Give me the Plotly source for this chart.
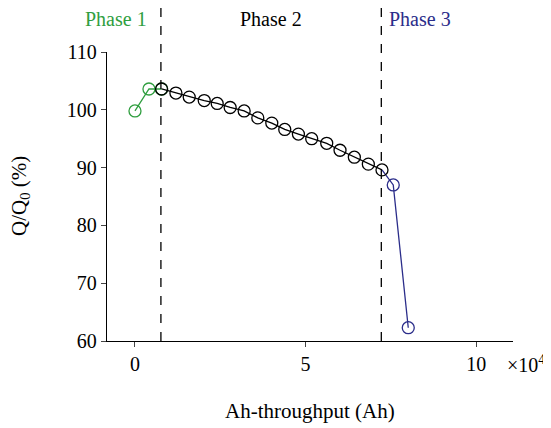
import plotly.graph_objects as go

# Data (x in units of 1e4 Ah, y in %)
phase1_x = [0.0, 0.41, 0.78]
phase1_y = [99.8, 103.6, 103.6]

phase2_x = [0.78, 1.20, 1.59, 2.03, 2.41, 2.79, 3.20, 3.60, 4.01, 4.39,
            4.79, 5.18, 5.62, 6.01, 6.43, 6.84, 7.24]
phase2_y = [103.6, 102.9, 102.2, 101.6, 101.1, 100.4, 99.8, 98.6, 97.7, 96.6,
            95.8, 95.0, 94.2, 93.0, 91.8, 90.6, 89.6]

phase3_x = [7.24, 7.57, 8.01]
phase3_y = [89.6, 87.0, 62.3]

boundaries = [0.76, 7.22]
x_ticks = [0, 5, 10]
y_ticks = [60, 70, 80, 90, 100, 110]

GREEN = "#2f9e3f"
BLUE = "#2b2d8a"
FONT = "Liberation Serif"
FS = 21
TFS = 20

# plot area in page pixels (page has an 8px body offset)
PL, PR, PT, PB = 107, 513, 52, 341
OFF = 8
W, H = 551 - OFF, 428 - OFF


def xp(px):
    return (px - PL) / (PR - PL)


def yp(py):
    return (PB - py) / (PB - PT)


fig = go.Figure()
fig.add_trace(go.Scatter(x=phase3_x[1:], y=phase3_y[1:], mode="markers",
                         marker=dict(symbol="circle-open", size=12, color=BLUE, line=dict(width=1.3)),
                         showlegend=False))
fig.add_trace(go.Scatter(x=phase3_x, y=phase3_y, mode="lines",
                         line=dict(color=BLUE, width=1.3), showlegend=False))
fig.add_trace(go.Scatter(x=phase1_x, y=phase1_y, mode="lines+markers",
                         line=dict(color=GREEN, width=1.3),
                         marker=dict(symbol="circle-open", size=12, color=GREEN, line=dict(width=1.3)),
                         showlegend=False))
fig.add_trace(go.Scatter(x=phase2_x, y=phase2_y, mode="lines+markers",
                         line=dict(color="black", width=1.3),
                         marker=dict(symbol="circle-open", size=12, color="black", line=dict(width=1.3)),
                         showlegend=False))

for b in boundaries:
    fig.add_shape(type="line", xref="x", yref="paper", x0=b, x1=b, y0=0, y1=yp(5),
                  line=dict(color="black", width=1.3, dash="dash"))


def label(text, px, py, color, size=FS, xanchor="center", angle=0):
    fig.add_annotation(x=xp(px), y=yp(py), xref="paper", yref="paper",
                       xanchor=xanchor, yanchor="middle", textangle=angle,
                       text=text, showarrow=False,
                       font=dict(color=color, size=size, family=FONT))


label("Phase 1", 116, 19, GREEN, size=20)
label("Phase 2", 271, 19, "black", size=20)
label("Phase 3", 420, 19, BLUE, size=20)
label("×10<sup>4</sup>", 505, 364, "black", size=TFS, xanchor="left")
label("Ah-throughput (Ah)", 310, 411, "black")
label("Q/Q<sub>0</sub> (%)", 20, 196, "black", angle=-90)

fig.update_layout(
    width=W, height=H,
    margin=dict(l=PL - OFF, r=W - (PR - OFF), t=PT - OFF, b=H - (PB - OFF)),
    plot_bgcolor="white", paper_bgcolor="white",
    font=dict(family=FONT, size=TFS, color="black"),
    xaxis=dict(range=[-0.82, 11.08], tickvals=x_ticks, ticks="outside", ticklen=5,
               showline=True, linecolor="black", linewidth=1.3, showgrid=False, zeroline=False,
               automargin=False, tickfont=dict(size=TFS)),
    yaxis=dict(range=[60, 110], tickvals=y_ticks, ticks="outside", ticklen=5,
               showline=True, linecolor="black", linewidth=1.3, showgrid=False, zeroline=False,
               automargin=False, tickfont=dict(size=TFS)),
)

fig.write_html("out.html")
